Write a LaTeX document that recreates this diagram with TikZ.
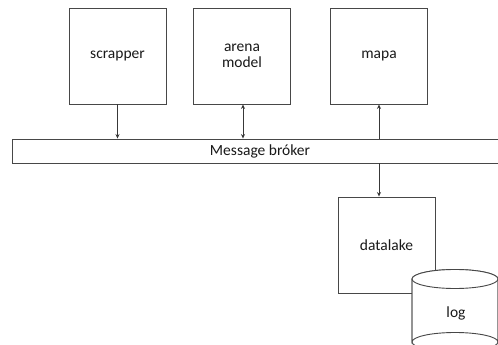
\documentclass[tikz,border=0pt]{standalone}
\usepackage{fontspec}
\setmainfont{Carlito}
\usetikzlibrary{arrows.meta}
\begin{document}
\begin{tikzpicture}[x=1pt,y=-1pt,
  every node/.style={font=\fontsize{15.5}{17}\selectfont, text=black!90},
  box/.style={draw=black!72, line width=0.9pt, fill=white, minimum width=97pt, minimum height=96pt, inner sep=0pt, align=center},
  bar/.style={draw=black!72, line width=0.9pt, fill=white, minimum width=488pt, minimum height=24pt, inner sep=0pt},
  link/.style={draw=black!78, line width=0.9pt, -{Stealth[length=4.5pt,width=4pt]}},
  dlink/.style={draw=black!78, line width=0.9pt, {Stealth[length=4.5pt,width=4pt]}-{Stealth[length=4.5pt,width=4pt]}},
  cyl/.style={draw=black!72, line width=0.9pt, fill=white}]
\useasboundingbox (0,0) rectangle (498,345);
\clip (0,0) rectangle (498,345);
\fill[white] (0,0) rectangle (498,345);

% producer / consumer services
\node[box] (scrapper) at (117.5,56) {scrapper};
\node[box] (arena) at (242,56) {arena\\[-1pt]model};
\node[box] (mapa) at (379,56) {mapa};

% shared message bus
\node[bar] (broker) at (256.5,151) {};
\node at (260,151) {Message bróker};

% storage side
\node[box] (datalake) at (386.5,245) {datalake};

% log store drawn as a cylinder over the datalake corner
\coordinate (cylc) at (455,279);
\path[cyl] (412,279) arc[start angle=180, end angle=360, x radius=43, y radius=9.5]
  -- (498,342) arc[start angle=0, end angle=180, x radius=43, y radius=9.5] -- cycle;
\path[cyl] (cylc) ellipse[x radius=43, y radius=9.5];
\draw[draw=black!72, line width=0.9pt] (412,279) -- (412,342) arc[start angle=180, end angle=0, x radius=43, y radius=-9.5] -- (498,279);
\node (log) at (456,313) {log};

% connectors
\draw[link] (scrapper.south) -- (scrapper.south |- broker.north);
\draw[dlink] (arena.south -| 243,0) -- (broker.north -| 243,0);
\draw[link] (broker.north -| mapa.south) -- (mapa.south);
\draw[link] (broker.south -| mapa.south) -- (datalake.north -| mapa.south);
\end{tikzpicture}
\end{document}
